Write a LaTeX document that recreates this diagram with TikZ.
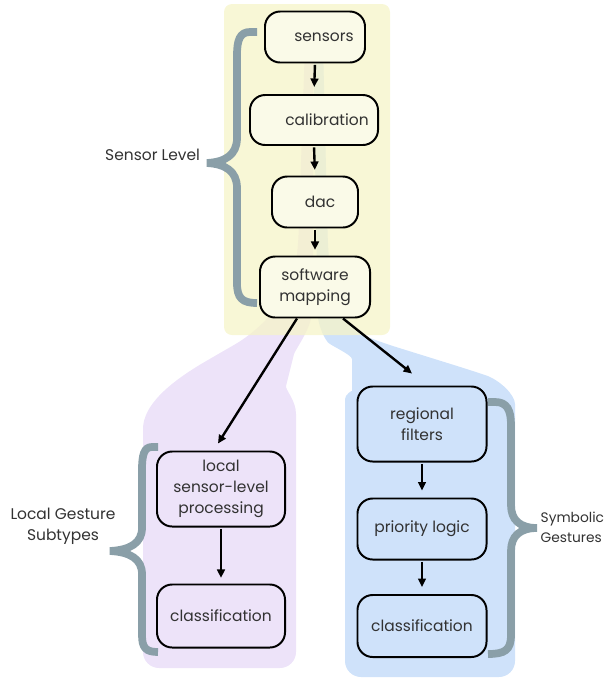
\documentclass[tikz,border=0pt]{standalone}
\usepackage{fontspec}
\setmainfont{Poppins}
\usetikzlibrary{arrows.meta}
\definecolor{sensbg}{RGB}{246,244,200}
\definecolor{sensbox}{RGB}{250,250,232}
\definecolor{locbg}{RGB}{237,227,249}
\definecolor{symbg}{RGB}{207,226,250}
\definecolor{bracecol}{RGB}{138,159,168}
\definecolor{txtcol}{RGB}{50,50,50}
\begin{document}
\begin{tikzpicture}[x=0.025cm,y=-0.025cm,
  every node/.style={font=\fontsize{11}{15}\selectfont,text=txtcol},
  box/.style={draw=black,line width=1.4pt,rounded corners=0.38cm,align=center,inner sep=2pt},
  arr/.style={-{Triangle[length=6pt,width=5.5pt]},line width=1.7pt,draw=black},
  brace/.style={draw=bracecol,line width=5.5pt,line cap=butt},
  lbl/.style={align=center}]
 \useasboundingbox (0,0) rectangle (613,679);

 \fill[locbg,rounded corners=0.4cm] (305,45) -- (298,250)
     .. controls (290,300) and (260,330) .. (220,353)
     .. controls (170,382) and (143,405) .. (143,445) -- (143,668) -- (296,668)
     -- (296,430) .. controls (296,400) and (285,390) .. (290,370)
     .. controls (295,350) and (310,330) .. (313,300) -- (313,45) -- cycle;
 \fill[symbg,rounded corners=0.4cm] (313,45) -- (323,45) -- (328,250)
     .. controls (333,300) and (350,330) .. (380,342) -- (470,370)
     .. controls (500,380) and (515,395) .. (515,420) -- (515,677) -- (345,677)
     -- (345,415) .. controls (345,395) and (352,390) .. (352,375)
     .. controls (352,355) and (330,345) .. (318,330) -- cycle;
 \fill[sensbg,fill opacity=0.75,rounded corners=0.2cm] (224,4) rectangle (390,335);

 \draw (315,37)  node[box,fill=sensbox,minimum width=2.5cm,minimum height=1.275cm] (sens)
       {\hspace*{0.45cm}sensors};
 \draw (314,120) node[box,fill=sensbox,minimum width=3.2cm,minimum height=1.25cm] (calib)
       {\hspace*{0.65cm}calibration};
 \draw (315,202) node[box,fill=sensbox,minimum width=2.15cm,minimum height=1.275cm] (dac)
       {\hspace*{0.25cm}dac};
 \draw (315,287) node[box,fill=sensbox,minimum width=2.75cm,minimum height=1.525cm] (swmap)
       {software\\mapping};

 \draw (221,489) node[box,fill=locbg,minimum width=3.2cm,minimum height=1.875cm] (local)
       {local\\sensor-level\\processing};
 \draw (221,616) node[box,fill=locbg,minimum width=3.2cm,minimum height=1.575cm] (lclass)
       {classification};

 \draw (422,424) node[box,fill=symbg,minimum width=3.225cm,minimum height=1.875cm] (regfilt)
       {regional\\filters};
 \draw (422,529) node[box,fill=symbg,minimum width=3.225cm,minimum height=1.525cm] (prio)
       {priority logic};
 \draw (422,626) node[box,fill=symbg,minimum width=3.225cm,minimum height=1.55cm] (sclass)
       {classification};

 \draw[arr,shorten <=1pt,shorten >=5pt] (sens.south) -- (calib.north);
 \draw[arr,shorten <=1pt,shorten >=4pt] (calib.south) -- (dac.north);
 \draw[arr,shorten <=1pt,shorten >=4pt] (dac.south) -- (swmap.north);
 \draw[arr,shorten <=1pt,shorten >=4pt] (local.south) -- (lclass.north);
 \draw[arr,shorten <=1pt,shorten >=5pt] (regfilt.south) -- (prio.north);
 \draw[arr,shorten <=1pt,shorten >=5pt] (prio.south) -- (sclass.north);
 \draw[arr] ([xshift=-0.45cm]swmap.south) -- ([shift={(-0.075cm,0.175cm)}]local.north);
 \draw[arr] ([xshift=0.7cm]swmap.south) -- ([shift={(-0.25cm,0.3cm)}]regfilt.north);

 \draw[brace] (257,32) -- (250,32) .. controls (240,32) and (237,40) .. (237,55)
     -- (237,138) .. controls (237,155) and (225,162) .. (207,163)
     .. controls (225,164) and (237,171) .. (237,188)
     -- (237,283) .. controls (237,298) and (242,303) .. (257,303);
 \draw[brace] (158,447) -- (152,447) .. controls (144,447) and (142,455) .. (142,470)
     -- (142,528) .. controls (142,543) and (130,550) .. (110,551)
     .. controls (130,552) and (142,559) .. (142,574)
     -- (142,635) .. controls (142,648) and (146,652) .. (158,652);
 \draw[brace] (488,402) -- (495,402) .. controls (507,402) and (511,410) .. (511,425)
     -- (511,505) .. controls (511,520) and (520,528) .. (537,528)
     .. controls (520,528) and (511,536) .. (511,551)
     -- (511,635) .. controls (511,650) and (505,654) .. (488,654);

 \node[lbl,anchor=east] (senslvl) at (205,155) {Sensor Level};
 \node[lbl] (locsub) at (63,526) {Local Gesture\\Subtypes};
 \node[lbl,anchor=west,align=left,font=\fontsize{9.8}{14}\selectfont,inner xsep=1pt]
       (symges) at (539,527) {Symbolic\\Gestures};
\end{tikzpicture}
\end{document}
